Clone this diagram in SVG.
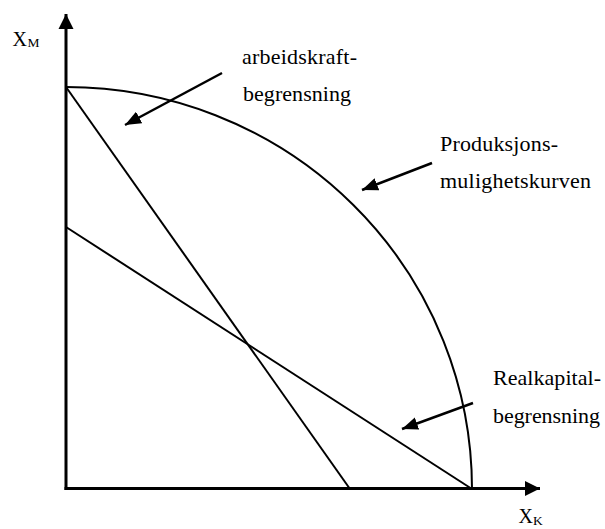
<svg xmlns="http://www.w3.org/2000/svg" width="605" height="529" viewBox="0 0 605 529">
<defs>
<marker id="axisHead" markerUnits="userSpaceOnUse" markerWidth="16" markerHeight="16" refX="15" refY="8" orient="auto" viewBox="0 0 16 16">
<path d="M0,0.5 L15,8 L0,15.5 z" fill="#000"/>
</marker>
<marker id="ptrHead" markerUnits="userSpaceOnUse" markerWidth="17" markerHeight="13" refX="16" refY="6.5" orient="auto" viewBox="0 0 17 13">
<path d="M0,0 L16,6.5 L0,13 z" fill="#000"/>
</marker>
<style>
.axis{stroke:#000;stroke-width:3;fill:none}
.line{stroke:#000;stroke-width:2;fill:none}
.ptr{stroke:#000;stroke-width:2.5;fill:none;marker-end:url(#ptrHead)}
text{font-family:'Liberation Serif','DejaVu Serif','Times New Roman',serif;fill:#000}
.lbl{font-size:22px}
.ax{font-size:20px}
.sub{font-size:13.5px}
</style>
</defs>
<g id="axes">
<line class="axis" x1="66" y1="490" x2="66" y2="14" marker-end="url(#axisHead)"/>
<line class="axis" x1="64.5" y1="488.5" x2="540" y2="488.5" marker-end="url(#axisHead)"/>
</g>
<g id="axis-labels">
<text class="ax" x="12.5" y="45.5">X</text><text class="sub" x="27.5" y="47">M</text>
<text class="ax" x="518.5" y="523">X</text><text class="sub" x="533" y="524.5">K</text>
</g>
<g id="produksjonsmulighetskurven">
<path class="line" d="M66,87 A406,402 0 0 1 472,489"/>
</g>
<g id="arbeidskraftbegrensning">
<line class="line" x1="66" y1="87" x2="350" y2="489"/>
</g>
<g id="realkapitalbegrensning">
<line class="line" x1="66" y1="227" x2="472" y2="489"/>
</g>
<g id="connectors">
<line class="ptr" x1="222" y1="73" x2="125" y2="125"/>
<line class="ptr" x1="432" y1="163" x2="362" y2="190"/>
<line class="ptr" x1="473" y1="403" x2="402" y2="429"/>
</g>
<g id="label-arbeidskraft">
<text class="lbl" x="242" y="64" textLength="115" lengthAdjust="spacing">arbeidskraft-</text>
<text class="lbl" x="243" y="101" textLength="108" lengthAdjust="spacing">begrensning</text>
</g>
<g id="label-produksjon">
<text class="lbl" x="440" y="151" textLength="118" lengthAdjust="spacing">Produksjons-</text>
<text class="lbl" x="440" y="188" textLength="151" lengthAdjust="spacing">mulighetskurven</text>
</g>
<g id="label-realkapital">
<text class="lbl" x="493" y="385" textLength="108" lengthAdjust="spacing">Realkapital-</text>
<text class="lbl" x="493" y="423" textLength="107" lengthAdjust="spacing">begrensning</text>
</g>
</svg>
